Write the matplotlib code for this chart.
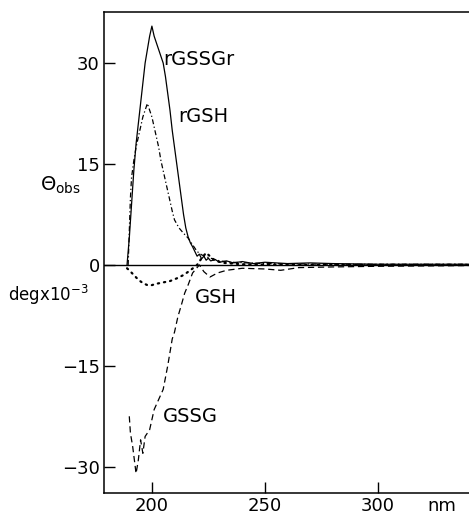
import numpy as np
import matplotlib
matplotlib.use("Agg")
import matplotlib.pyplot as plt

# wavelength (nm) and ellipticity (deg x 10^-3)
wl_rgssgr = [189, 190, 191, 192, 193, 194, 195, 196, 197, 198, 199, 200,
             201, 202, 203, 204, 205, 206, 207, 208, 209, 210, 211, 212,
             213, 214, 215, 216, 217, 218, 219, 220, 221, 222, 223, 224,
             225, 226, 228, 230, 233, 236, 240, 245, 250, 260, 270, 280,
             300, 320, 340]
th_rgssgr = [0, 4, 9, 14, 18, 21, 24, 27, 30, 32, 34, 35.5,
             34, 33, 32, 31, 30, 28, 25.5, 23, 20, 17.5, 15, 12.5,
             10, 7.5, 5.5, 4.2, 3.3, 2.7, 2.0, 1.3, 1.6, 0.9, 1.3, 0.7,
             1.0, 0.6, 0.8, 0.4, 0.6, 0.3, 0.5, 0.2, 0.4, 0.2, 0.3, 0.2,
             0.1, 0.1, 0.1]

wl_rgsh = [189.5, 190, 190.5, 191, 192, 193, 194, 195, 196, 197, 198, 199,
           200, 201, 202, 203, 204, 205, 206, 207, 208, 209, 210, 212,
           214, 216, 218, 220, 222, 224, 226, 230, 235, 250, 280, 340]
th_rgsh = [0, 5, 10, 13, 15.5, 17.5, 19, 20.5, 22, 23, 24, 23,
           22, 20.5, 19, 17.5, 15.5, 14, 12.5, 11, 9.5, 8, 6.7, 5.5,
           4.7, 4.0, 3.0, 2.0, 1.5, 1.2, 1.0, 0.6, 0.4, 0.2, 0.1, 0.1]

wl_gsh = [189, 190, 192, 194, 196, 198, 200, 202, 205, 208, 211, 214,
          217, 220, 222, 224, 226, 228, 232, 240, 260, 300, 340]
th_gsh = [-0.5, -0.8, -1.5, -2.2, -2.7, -3.0, -3.0, -2.8, -2.6, -2.4, -2.0, -1.5,
          -0.8, 0.0, 1.0, 1.8, 1.2, 0.6, 0.3, 0.1, 0.0, 0.0, 0.0]

wl_gssg = [190, 190.5, 191.5, 193, 193.5, 194, 195, 196, 197, 198, 199, 200,
           201, 203, 205, 207, 208, 209, 210, 211.5, 213, 214.5, 216, 218,
           221, 223, 225.7, 229, 233, 240, 250, 257, 265, 280, 300, 340]
th_gssg = [-22.5, -25, -27, -31, -30, -29, -26, -28, -25.5, -25, -24.5, -23,
           -21.5, -20, -18.5, -15, -13, -11, -10, -7.7, -6, -4.2, -3, -1.2,
           0.0, -1.0, -1.8, -1.2, -0.8, -0.5, -0.6, -0.8, -0.4, -0.3, -0.2, -0.1]

labels = ["rGSSGr", "rGSH", "GSH", "GSSG"]
xticks = [200, 250, 300]
yticks = [-30, -15, 0, 15, 30]

plt.rcParams["font.family"] = ["DejaVu Sans"]

fig = plt.figure(figsize=(4.69, 5.23), dpi=100)
ax = fig.add_axes([0.2217, 0.0574, 0.7783, 0.9197])

ax.plot(wl_rgssgr, th_rgssgr, color="black", lw=0.9, ls="-")
ax.plot(wl_rgsh, th_rgsh, color="black", lw=0.9, ls=(0, (4, 2, 1, 2)))
ax.plot(wl_gsh, th_gsh, color="black", lw=1.6, ls=(0, (0.6, 2.2)),
        dash_capstyle="round")
ax.plot(wl_gssg, th_gssg, color="black", lw=0.9, ls=(0, (5, 3)))
ax.axhline(0, color="black", lw=1.0)

ax.set_xlim(178.8, 340.3)
ax.set_ylim(-33.9, 37.6)
ax.set_xticks(xticks)
ax.set_yticks(yticks)
ax.set_yticklabels([str(t).replace("-", "\u2212") for t in yticks])
ax.tick_params(direction="in", length=8, width=1.0, labelsize=13, pad=3)
ax.spines["right"].set_visible(False)
for s in ["left", "bottom", "top"]:
    ax.spines[s].set_linewidth(1.1)

# curve labels
ax.text(205, 30.5, labels[0], fontsize=14, va="center", ha="left")
ax.text(211.5, 22, labels[1], fontsize=14, va="center", ha="left")
ax.text(219, -4.8, labels[2], fontsize=14, va="center", ha="left")
ax.text(205, -22.5, labels[3], fontsize=14, va="center", ha="left")

# axis annotations
fig.text(60 / 469, 1 - 185 / 523, r"$\Theta_{\mathrm{obs}}$", fontsize=14,
         ha="center", va="center")
fig.text(48 / 469, 1 - 295 / 523, r"degx10$^{-3}$", fontsize=12,
         ha="center", va="center")
fig.text(442 / 469, 1 - 506 / 523, "nm", fontsize=13, ha="center", va="center")

fig.savefig("out.png", dpi=100)
